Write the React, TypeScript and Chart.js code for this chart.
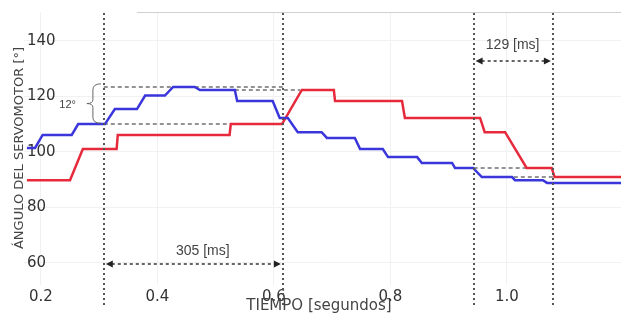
import React, { useEffect, useRef } from "react";
import { Chart, registerables } from "chart.js";

Chart.register(...registerables);

// ---- Data ----
const blueTimes = [0.176, 0.19, 0.203, 0.253, 0.264, 0.31, 0.327, 0.365, 0.379, 0.413, 0.427, 0.464, 0.473, 0.533, 0.537, 0.598, 0.61, 0.624, 0.641, 0.682, 0.691, 0.739, 0.748, 0.787, 0.796, 0.846, 0.854, 0.906, 0.911, 0.942, 0.957, 1.009, 1.014, 1.062, 1.069, 1.196];
const blueAngles = [101.4, 101.4, 106.1, 106.1, 110.0, 110.0, 115.4, 115.4, 120.3, 120.3, 123.4, 123.4, 122.3, 122.3, 118.3, 118.3, 112.2, 112.2, 107.1, 107.1, 105.0, 105.0, 101.0, 101.0, 98.1, 98.1, 96.0, 96.0, 94.2, 94.2, 90.9, 90.9, 89.8, 89.8, 88.8, 88.8];

const redTimes = [0.176, 0.25, 0.272, 0.33, 0.332, 0.524, 0.526, 0.614, 0.648, 0.703, 0.705, 0.82, 0.825, 0.954, 0.962, 0.997, 1.034, 1.077, 1.082, 1.196];
const redAngles = [89.8, 89.8, 101.0, 101.0, 106.1, 106.1, 110.0, 110.0, 122.3, 122.3, 118.3, 118.3, 112.2, 112.2, 107.1, 107.1, 94.2, 94.2, 90.9, 90.9];

const xTicks = [0.2, 0.4, 0.6, 0.8, 1.0];
const yTicks = [60, 80, 100, 120, 140];

const xTitle = "TIEMPO [segundos]";
const yTitle = "ÁNGULO DEL SERVOMOTOR [°]";

// Annotations
const markerTimes = [0.308, 0.6155, 0.943, 1.079];
const guideStarts = [0.308, 0.533, 0.308, 0.943, 1.012];
const guideEnds = [0.6155, 0.645, 0.524, 1.034, 1.079];
const guideAngles = [123.4, 122.3, 110.0, 94.2, 90.9];
const arrowStarts = [0.308, 0.943];
const arrowEnds = [0.6155, 1.079];
const arrowAngles = [59.6, 132.7];
const labelTexts = ["305 [ms]", "129 [ms]", "12°"];
const labelTimes = [0.478, 1.01, 0.246];
const labelAngles = [64.3, 138.5, 117.0];
const braceTime = 0.2893;
const braceTop = 124.5;
const braceBottom = 110.3;
const topBorderStart = 0.3648;

const annotations = {
  id: "annotations",
  beforeDatasetsDraw(chart: any) {
    const { ctx, chartArea } = chart;
    const x = chart.scales.x;
    const y = chart.scales.y;
    ctx.save();
    // partial top border
    ctx.strokeStyle = "#d0d0d0";
    ctx.lineWidth = 1;
    ctx.beginPath();
    ctx.moveTo(x.getPixelForValue(topBorderStart), chartArea.top + 0.5);
    ctx.lineTo(chartArea.right, chartArea.top + 0.5);
    ctx.stroke();
    // horizontal dashed guides
    ctx.setLineDash([4, 3]);
    ctx.strokeStyle = "#707070";
    ctx.lineWidth = 1.5;
    for (let i = 0; i < guideAngles.length; i++) {
      const py = y.getPixelForValue(guideAngles[i]);
      ctx.beginPath();
      ctx.moveTo(x.getPixelForValue(guideStarts[i]), py);
      ctx.lineTo(x.getPixelForValue(guideEnds[i]), py);
      ctx.stroke();
    }
    ctx.restore();
  },
  afterDatasetsDraw(chart: any) {
    const { ctx, chartArea } = chart;
    const x = chart.scales.x;
    const y = chart.scales.y;
    ctx.save();
    // vertical dotted markers
    ctx.setLineDash([2, 3]);
    ctx.strokeStyle = "#555";
    ctx.lineWidth = 2;
    for (const t of markerTimes) {
      const px = Math.round(x.getPixelForValue(t));
      ctx.beginPath();
      ctx.moveTo(px, chartArea.top + 1);
      ctx.lineTo(px, chartArea.bottom + 21);
      ctx.stroke();
    }
    // double arrows
    for (let i = 0; i < arrowAngles.length; i++) {
      const py = Math.round(y.getPixelForValue(arrowAngles[i]));
      const x1 = x.getPixelForValue(arrowStarts[i]) + 2;
      const x2 = x.getPixelForValue(arrowEnds[i]) - 2;
      ctx.setLineDash([3, 3]);
      ctx.strokeStyle = "#333";
      ctx.lineWidth = 1.5;
      ctx.beginPath();
      ctx.moveTo(x1 + 6, py);
      ctx.lineTo(x2 - 6, py);
      ctx.stroke();
      ctx.setLineDash([]);
      ctx.fillStyle = "#222";
      ctx.beginPath();
      ctx.moveTo(x1, py);
      ctx.lineTo(x1 + 7, py - 3.5);
      ctx.lineTo(x1 + 7, py + 3.5);
      ctx.closePath();
      ctx.fill();
      ctx.beginPath();
      ctx.moveTo(x2, py);
      ctx.lineTo(x2 - 7, py - 3.5);
      ctx.lineTo(x2 - 7, py + 3.5);
      ctx.closePath();
      ctx.fill();
    }
    // brace
    const bx = x.getPixelForValue(braceTime);
    const yt = y.getPixelForValue(braceTop);
    const yb = y.getPixelForValue(braceBottom);
    const ym = (yt + yb) / 2;
    ctx.setLineDash([]);
    ctx.strokeStyle = "#666";
    ctx.lineWidth = 1;
    ctx.beginPath();
    ctx.moveTo(bx + 8, yt);
    ctx.quadraticCurveTo(bx, yt, bx, yt + 6);
    ctx.lineTo(bx, ym - 4);
    ctx.quadraticCurveTo(bx, ym, bx - 6, ym);
    ctx.quadraticCurveTo(bx, ym, bx, ym + 4);
    ctx.lineTo(bx, yb - 6);
    ctx.quadraticCurveTo(bx, yb, bx + 8, yb);
    ctx.stroke();
    // labels
    ctx.fillStyle = "#444";
    ctx.textAlign = "center";
    ctx.textBaseline = "middle";
    for (let i = 0; i < labelTexts.length; i++) {
      ctx.font = i < 2 ? '14px "Liberation Sans"' : '11px "Liberation Sans"';
      ctx.fillText(labelTexts[i], x.getPixelForValue(labelTimes[i]), y.getPixelForValue(labelAngles[i]));
    }
    ctx.restore();
  },
  afterDraw(chart: any) {
    const { ctx } = chart;
    ctx.save();
    ctx.fillStyle = "#444";
    ctx.font = '15px "DejaVu Sans"';
    ctx.textAlign = "center";
    ctx.textBaseline = "alphabetic";
    ctx.fillText(xTitle, 319, 310);
    ctx.translate(20, 148);
    ctx.rotate(-Math.PI / 2);
    ctx.font = '13px "DejaVu Sans"';
    ctx.textBaseline = "middle";
    ctx.fillText(yTitle, 0, 0);
    ctx.restore();
  },
};

export default function App() {
  const ref = useRef<HTMLCanvasElement | null>(null);
  useEffect(() => {
    document.body.style.margin = "0";
    const canvas = ref.current;
    if (!canvas) return;
    const chart = new Chart(canvas, {
      type: "line",
      data: {
        datasets: [
          {
            label: "blue",
            data: blueTimes.map((t, i) => ({ x: t, y: blueAngles[i] })),
            borderColor: "#3a36dc",
            borderWidth: 2.5,
            pointRadius: 0,
            tension: 0,
            fill: false,
          },
          {
            label: "red",
            data: redTimes.map((t, i) => ({ x: t, y: redAngles[i] })),
            borderColor: "#e62a3c",
            borderWidth: 2.5,
            pointRadius: 0,
            tension: 0,
            fill: false,
          },
        ],
      },
      options: {
        animation: false,
        responsive: false,
        devicePixelRatio: 1,
        layout: { padding: { left: 24, top: 12, right: 0, bottom: 0 } },
        plugins: { legend: { display: false }, tooltip: { enabled: false } },
        scales: {
          x: {
            type: "linear",
            min: 0.171,
            max: 1.196,
            afterFit(s: any) {
              s.height = 36;
            },
            afterBuildTicks(s: any) {
              s.ticks = xTicks.map((v) => ({ value: v }));
            },
            ticks: {
              padding: 3,
              color: "#333",
              font: { family: "DejaVu Sans", size: 15 },
              maxRotation: 0,
              autoSkip: false,
              callback: (v: any) => Number(v).toFixed(1),
            },
            grid: { color: "#f1f1f1", drawTicks: false },
            border: { display: false },
          },
          y: {
            type: "linear",
            min: 52,
            max: 150.4,
            afterFit(s: any) {
              s.width = 0;
            },
            afterBuildTicks(s: any) {
              s.ticks = yTicks.map((v) => ({ value: v }));
            },
            ticks: {
              mirror: true,
              padding: 3,
              color: "#333",
              font: { family: "DejaVu Sans", size: 15 },
            },
            grid: { color: "#f1f1f1", drawTicks: false },
            border: { display: false },
          },
        },
      },
      plugins: [annotations],
    });
    return () => chart.destroy();
  }, []);
  return (
    <div style={{ width: 621, height: 321 }}>
      <canvas ref={ref} width={621} height={321} style={{ display: "block" }} />
    </div>
  );
}
